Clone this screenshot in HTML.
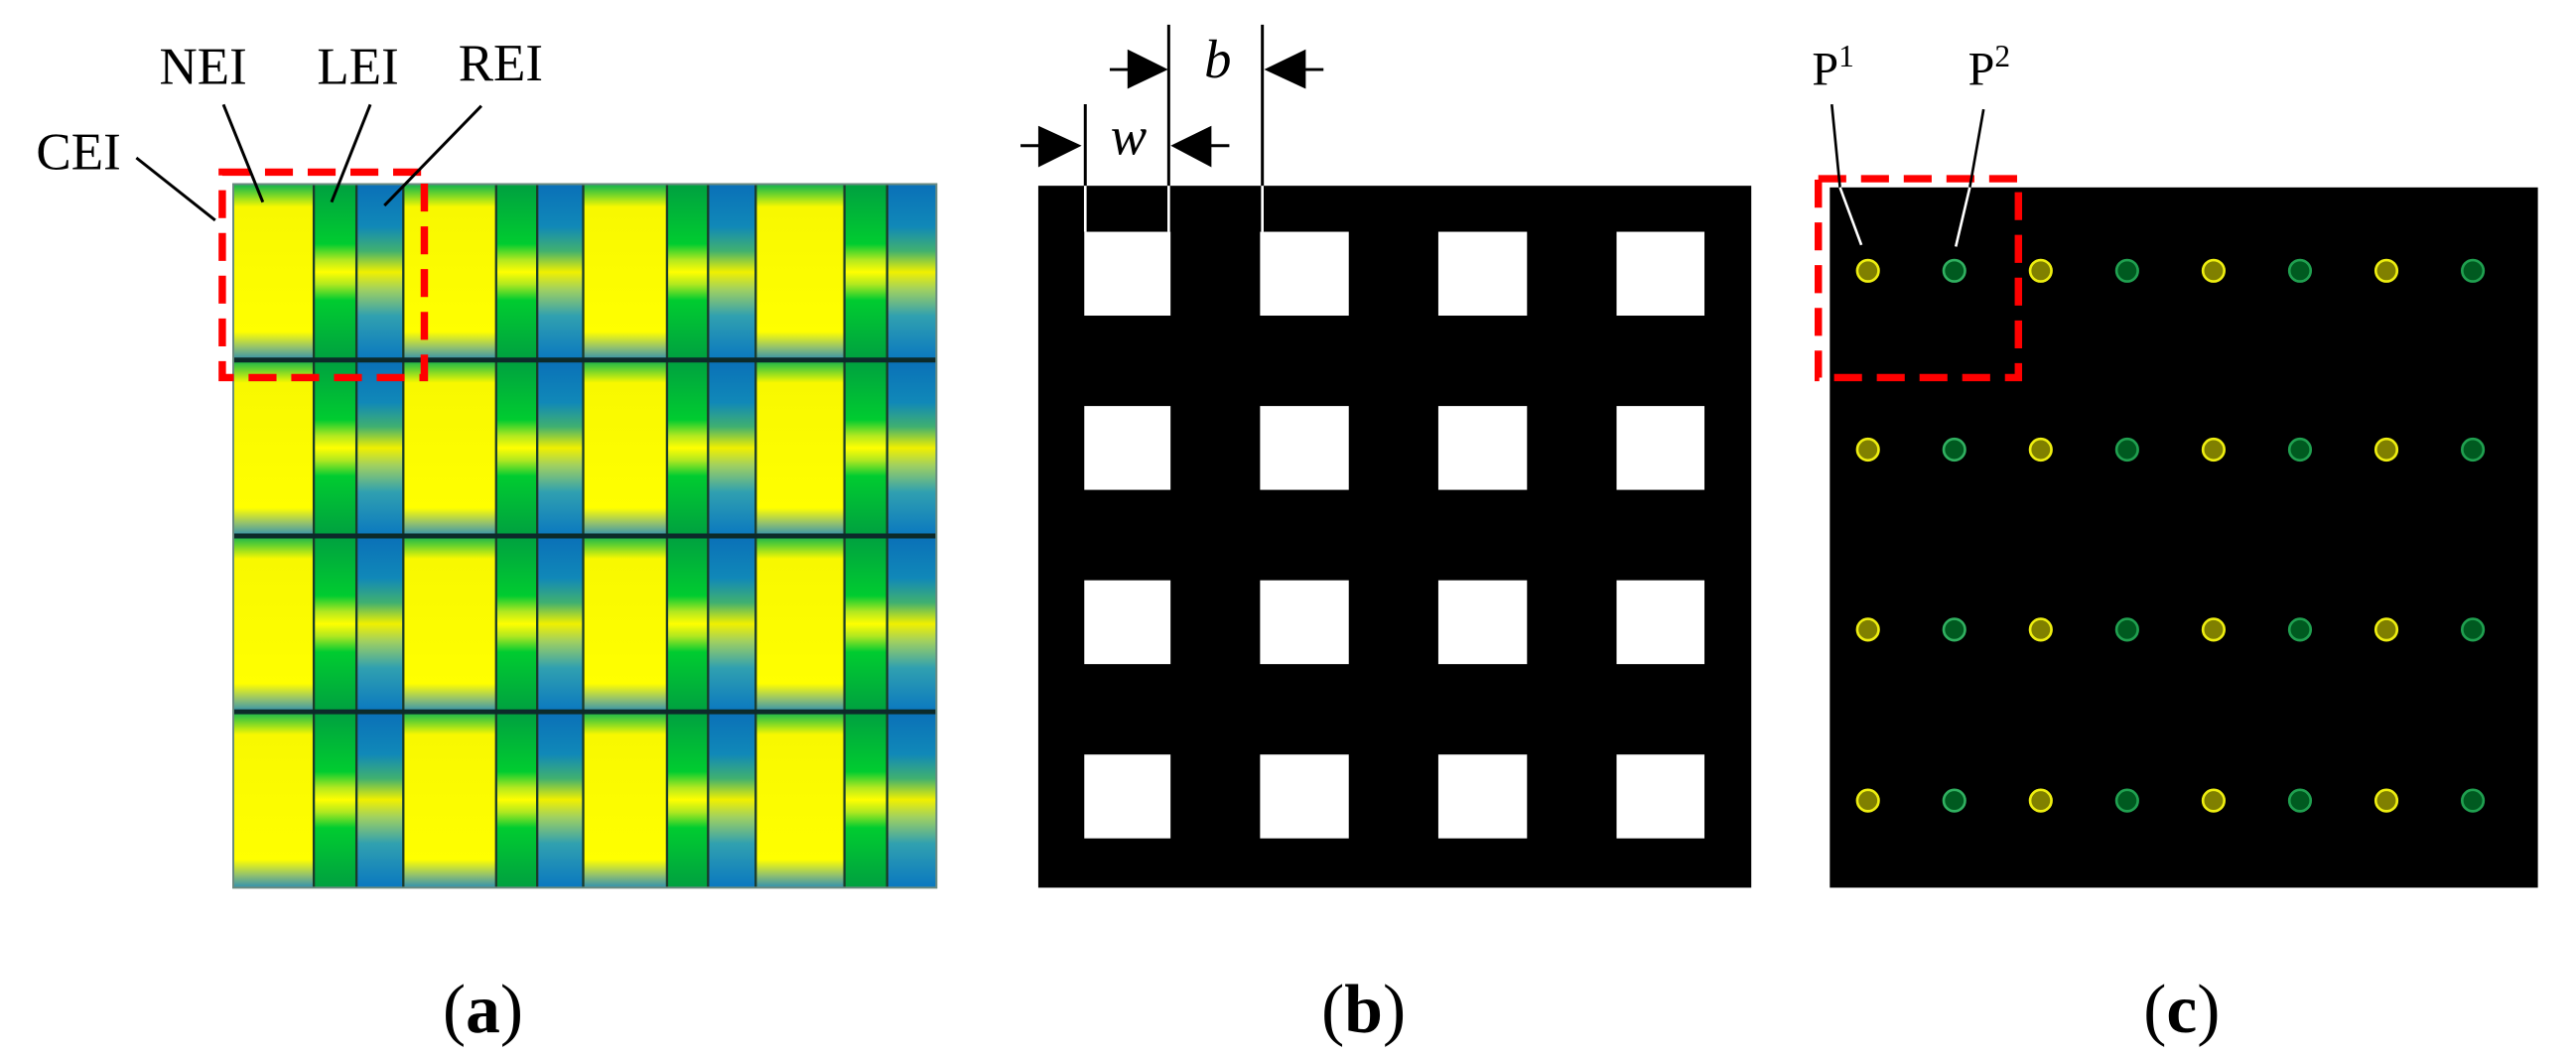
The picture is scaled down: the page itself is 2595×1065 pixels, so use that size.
<!DOCTYPE html>
<html><head><meta charset="utf-8"><style>
html,body{margin:0;padding:0;background:#fff;}
svg{display:block;}
text{font-family:"Liberation Serif",serif;fill:#000;}
</style></head><body>
<svg width="2595" height="1065" viewBox="0 0 1568 643" preserveAspectRatio="none" xmlns="http://www.w3.org/2000/svg">
<defs>
<linearGradient id="gy" x1="0" y1="0" x2="0" y2="1">
<stop offset="0" stop-color="#10b050"/><stop offset="0.05" stop-color="#60d030"/><stop offset="0.13" stop-color="#f8f800"/><stop offset="0.84" stop-color="#ffff00"/><stop offset="0.93" stop-color="#90c070"/><stop offset="1" stop-color="#3090b0"/>
</linearGradient>
<linearGradient id="gg" x1="0" y1="0" x2="0" y2="1">
<stop offset="0" stop-color="#00a040"/><stop offset="0.34" stop-color="#00cc30"/><stop offset="0.43" stop-color="#b0e820"/><stop offset="0.5" stop-color="#ffff00"/><stop offset="0.57" stop-color="#b0e820"/><stop offset="0.66" stop-color="#00cc30"/><stop offset="1" stop-color="#00a040"/>
</linearGradient>
<linearGradient id="gb" x1="0" y1="0" x2="0" y2="1">
<stop offset="0" stop-color="#0a70b8"/><stop offset="0.24" stop-color="#1088b8"/><stop offset="0.38" stop-color="#40b070"/><stop offset="0.5" stop-color="#f0f000"/><stop offset="0.6" stop-color="#a0d060"/><stop offset="0.75" stop-color="#30a0b0"/><stop offset="1" stop-color="#0a78c0"/>
</linearGradient>
<g id="row">
<rect x="142" y="0" width="49" height="107" fill="url(#gy)"/>
<rect x="191" y="0" width="26" height="107" fill="url(#gg)"/>
<rect x="217" y="0" width="28.5" height="107" fill="url(#gb)"/>
<rect x="245.5" y="0" width="56.5" height="107" fill="url(#gy)"/>
<rect x="302" y="0" width="25" height="107" fill="url(#gg)"/>
<rect x="327" y="0" width="28" height="107" fill="url(#gb)"/>
<rect x="355" y="0" width="51" height="107" fill="url(#gy)"/>
<rect x="406" y="0" width="25" height="107" fill="url(#gg)"/>
<rect x="431" y="0" width="29" height="107" fill="url(#gb)"/>
<rect x="460" y="0" width="54" height="107" fill="url(#gy)"/>
<rect x="514" y="0" width="26" height="107" fill="url(#gg)"/>
<rect x="540" y="0" width="30" height="107" fill="url(#gb)"/>
</g>
<g id="sq">
<rect x="660" y="0" width="52.5" height="51" fill="#fff"/>
<rect x="767" y="0" width="54" height="51" fill="#fff"/>
<rect x="875.5" y="0" width="54" height="51" fill="#fff"/>
<rect x="984" y="0" width="53.5" height="51" fill="#fff"/>
</g>
<g id="dots" stroke-width="1.6">
<circle cx="1137" cy="0" r="6.5" fill="#808000" stroke="#eeee10"/>
<circle cx="1189.6" cy="0" r="6.5" fill="#005a20" stroke="#30b060"/>
<circle cx="1242.2" cy="0" r="6.5" fill="#808000" stroke="#eeee10"/>
<circle cx="1294.8" cy="0" r="6.5" fill="#005a20" stroke="#20a050"/>
<circle cx="1347.4" cy="0" r="6.5" fill="#808000" stroke="#eeee10"/>
<circle cx="1400" cy="0" r="6.5" fill="#005a20" stroke="#20a050"/>
<circle cx="1452.6" cy="0" r="6.5" fill="#808000" stroke="#eeee10"/>
<circle cx="1505.2" cy="0" r="6.5" fill="#005a20" stroke="#20a050"/>
</g>
</defs>

<use href="#row" y="112"/>
<use href="#row" y="219"/>
<use href="#row" y="326"/>
<use href="#row" y="433"/>
<g stroke="#1a3a2a" stroke-width="1.4">
<line x1="191" y1="112" x2="191" y2="540"/><line x1="217" y1="112" x2="217" y2="540"/><line x1="245.5" y1="112" x2="245.5" y2="540"/>
<line x1="302" y1="112" x2="302" y2="540"/><line x1="327" y1="112" x2="327" y2="540"/><line x1="355" y1="112" x2="355" y2="540"/>
<line x1="406" y1="112" x2="406" y2="540"/><line x1="431" y1="112" x2="431" y2="540"/><line x1="460" y1="112" x2="460" y2="540"/>
<line x1="514" y1="112" x2="514" y2="540"/><line x1="540" y1="112" x2="540" y2="540"/>
</g>
<g stroke="#0c2a2a" stroke-width="3">
<line x1="142" y1="219" x2="570" y2="219"/><line x1="142" y1="326" x2="570" y2="326"/><line x1="142" y1="433" x2="570" y2="433"/>
</g>
<rect x="142" y="112" width="428" height="428" fill="none" stroke="#6a8a80" stroke-width="1.2"/>
<rect x="135.3" y="104.7" width="123" height="125" fill="none" stroke="#ff0000" stroke-width="4.5" stroke-dasharray="17 9"/>
<g stroke="#000" stroke-width="1.8">
<line x1="83" y1="96" x2="131" y2="134"/>
<line x1="136" y1="63.6" x2="160" y2="123"/>
<line x1="225.4" y1="63.6" x2="201.8" y2="123"/>
<line x1="293" y1="64.4" x2="234" y2="125"/>
</g>
<text x="22" y="103" font-size="32">CEI</text>
<text x="97" y="51" font-size="32">NEI</text>
<text x="193" y="51" font-size="32">LEI</text>
<text x="279" y="49" font-size="32">REI</text>

<rect x="632" y="113" width="434" height="427" fill="#000"/>
<use href="#sq" y="141"/>
<use href="#sq" y="247"/>
<use href="#sq" y="353"/>
<use href="#sq" y="459"/>
<g stroke="#000" stroke-width="1.8">
<line x1="660.6" y1="63.4" x2="660.6" y2="113"/>
<line x1="711.4" y1="15" x2="711.4" y2="113"/>
<line x1="768.4" y1="15" x2="768.4" y2="113"/>
<line x1="675.5" y1="42.3" x2="690" y2="42.3"/>
<line x1="790" y1="42.3" x2="805.6" y2="42.3"/>
<line x1="621.2" y1="88.6" x2="636" y2="88.6"/>
<line x1="733" y1="88.6" x2="748.3" y2="88.6"/>
</g>
<g stroke="#fff" stroke-width="1.6">
<line x1="660.6" y1="113" x2="660.6" y2="141"/>
<line x1="711.4" y1="113" x2="711.4" y2="141"/>
<line x1="768.4" y1="113" x2="768.4" y2="141"/>
</g>
<polygon points="686.3,30 711,42.3 686.3,54" fill="#000"/>
<polygon points="794.8,30 769.5,42.3 794.8,54" fill="#000"/>
<polygon points="632,76.5 658.4,88.6 632,101.7" fill="#000"/>
<polygon points="737.4,76.5 712.6,88.6 737.4,101.7" fill="#000"/>
<text x="733" y="47" font-size="33" font-style="italic">b</text>
<text x="676" y="94" font-size="33" font-style="italic">w</text>

<rect x="1113.8" y="114" width="431" height="426" fill="#000"/>
<use href="#dots" y="164.7"/>
<use href="#dots" y="273.5"/>
<use href="#dots" y="383"/>
<use href="#dots" y="487"/>
<rect x="1106.8" y="108.7" width="121.8" height="121" fill="none" stroke="#ff0000" stroke-width="4.5" stroke-dasharray="17 9"/>
<g stroke-width="1.6">
<line x1="1115" y1="63.5" x2="1120" y2="114" stroke="#000"/>
<line x1="1120" y1="114" x2="1133" y2="149" stroke="#fff"/>
<line x1="1207.4" y1="66.5" x2="1199" y2="114" stroke="#000"/>
<line x1="1199" y1="114" x2="1190.5" y2="150" stroke="#fff"/>
</g>
<text x="1103" y="51.5" font-size="29">P<tspan font-size="19" dy="-11">1</tspan></text>
<text x="1198" y="51.5" font-size="29">P<tspan font-size="19" dy="-11">2</tspan></text>

<text x="294" y="628" font-size="42" text-anchor="middle">(<tspan font-weight="bold">a</tspan>)</text>
<text x="830" y="628" font-size="42" text-anchor="middle">(<tspan font-weight="bold">b</tspan>)</text>
<text x="1328" y="628" font-size="42" text-anchor="middle">(<tspan font-weight="bold">c</tspan>)</text>
</svg>
</body></html>
